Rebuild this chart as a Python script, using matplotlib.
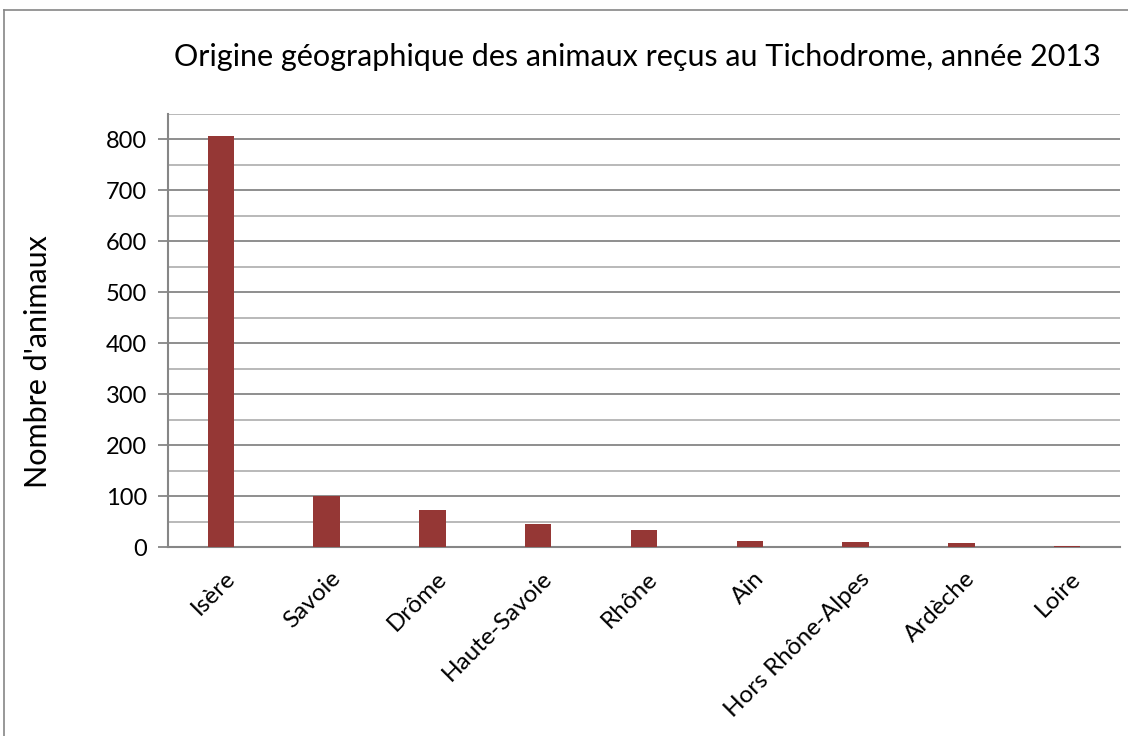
import matplotlib.pyplot as plt
import matplotlib.transforms as mtransforms
from matplotlib.lines import Line2D
from matplotlib.ticker import MultipleLocator

plt.rcParams['font.family'] = ['Lato', 'DejaVu Sans']

# données
departements = ['Isère', 'Savoie', 'Drôme', 'Haute-Savoie', 'Rhône', 'Ain',
                'Hors Rhône-Alpes', 'Ardèche', 'Loire']
nb_animaux = [806, 100, 73, 45, 33, 12, 10, 8, 2]

bar_color = '#953735'
major_grey = '#868686'
minor_grey = '#b3b3b3'

fig = plt.figure(figsize=(11.28, 7.36), dpi=100)
ax = fig.add_axes([168 / 1128, 189 / 736, 952 / 1128, 433 / 736])

x = range(len(departements))
ax.bar(x, nb_animaux, width=0.25, color=bar_color, zorder=3)

ax.set_xlim(-0.5, len(departements) - 0.5)
ax.set_ylim(0, 850)
ax.yaxis.set_major_locator(MultipleLocator(100))
ax.yaxis.set_minor_locator(MultipleLocator(50))
ax.grid(which='major', axis='y', color=major_grey, lw=1.3, zorder=0)
ax.grid(which='minor', axis='y', color=minor_grey, lw=1.3, zorder=0)
ax.tick_params(axis='y', which='major', length=7, width=1.3, color=major_grey,
               labelsize=17, pad=8)
ax.tick_params(axis='y', which='minor', length=0)
ax.tick_params(axis='x', length=0, labelsize=17.5, pad=15)

ax.set_xticks(list(x))
ax.set_xticklabels(departements, rotation=45, ha='right', rotation_mode='anchor')
offset = mtransforms.ScaledTranslation(3 / 100, 0, fig.dpi_scale_trans)
for lbl in ax.get_xticklabels():
    lbl.set_transform(lbl.get_transform() + offset)

for side in ['top', 'right']:
    ax.spines[side].set_visible(False)
ax.spines['left'].set_color(major_grey)
ax.spines['left'].set_linewidth(1.5)
ax.spines['bottom'].set_color(major_grey)
ax.spines['bottom'].set_linewidth(1.5)

ax.set_ylabel("Nombre d'animaux", fontsize=22)
ax.yaxis.set_label_coords((52 - 168) / 952, (547 - 362) / 433)
fig.text(637 / 1128, 1 - 57 / 736,
         'Origine géographique des animaux reçus au Tichodrome, année 2013',
         ha='center', va='center', fontsize=22)

# cadre extérieur
fig.add_artist(Line2D([4 / 1128, 1], [1 - 10 / 736, 1 - 10 / 736],
                      transform=fig.transFigure, color=major_grey, lw=1.2))
fig.add_artist(Line2D([4 / 1128, 4 / 1128], [0, 1 - 10 / 736],
                      transform=fig.transFigure, color=major_grey, lw=1.2))

fig.savefig('out.png', dpi=100)
